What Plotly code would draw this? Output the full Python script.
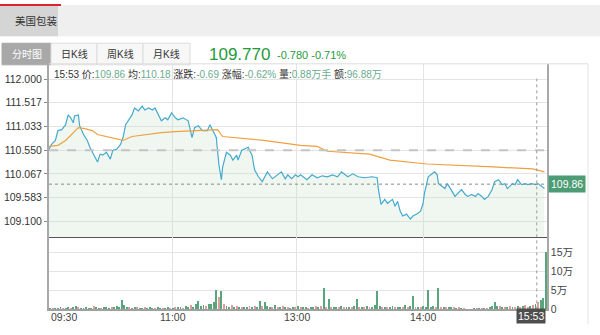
import plotly.graph_objects as go

W, H = 600, 335

# ---------------- data ----------------
stock_name = "美国包装"
tabs = ["分时图", "日K线", "周K线", "月K线"]
last_close_txt = "109.770"
change_txt = "-0.780"
change_pct_txt = "-0.71%"
prev_close = 110.55
cur_price = 109.86
cross_min = 382
cross_time = "15:53"
header_items = [("15:53", ""), ("价:", "109.86"), ("均:", "110.18"), ("涨跌:", "-0.69"),
                ("涨幅:", "-0.62%"), ("量:", "0.88万手"), ("额:", "96.88万")]

# minute index since open -> price
price_pts = [
    (0, 110.57), (2, 110.67), (5, 110.75), (7, 110.95), (10, 110.97), (13, 111.07), (15, 111.27),
    (17, 111.21), (19, 111.11), (20, 111.25), (23, 111.27), (24, 111.05), (27, 110.87), (30, 110.75),
    (32, 110.61), (34, 110.51), (38, 110.31), (40, 110.47), (42, 110.45), (45, 110.51), (48, 110.37),
    (50, 110.55), (53, 110.57), (56, 110.67), (58, 110.81), (60, 111.07), (62, 111.15), (65, 111.27),
    (67, 111.41), (70, 111.35), (73, 111.45), (75, 111.37), (78, 111.41), (81, 111.37), (83, 111.41),
    (85, 111.31), (88, 111.15), (91, 111.21), (93, 111.17), (96, 111.31), (99, 111.21), (101, 111.17),
    (105, 111.21), (109, 111.15), (112, 110.81), (114, 111.01), (117, 111.05), (120, 110.95),
    (124, 110.95), (126, 111.07), (128, 110.97), (131, 110.81), (133, 110.27), (135, 109.95),
    (136, 110.21), (139, 110.51), (142, 110.45), (144, 110.35), (147, 110.45), (148, 110.35),
    (151, 110.55), (153, 110.57), (156, 110.61), (159, 110.45), (161, 110.15), (164, 110.01),
    (167, 109.91), (169, 110.01), (171, 110.11), (175, 109.97), (179, 110.05), (182, 110.11),
    (185, 109.97), (187, 110.05), (190, 109.97), (193, 110.05), (195, 110.01), (197, 110.05),
    (199, 110.01), (202, 109.95), (206, 110.05), (210, 109.99), (214, 110.03), (218, 110.01),
    (222, 110.05), (226, 110.01), (229, 110.11), (232, 110.05), (234, 110.01), (238, 110.07),
    (242, 110.01), (247, 109.99), (253, 110.01), (257, 109.99), (258, 109.75), (260, 109.45),
    (263, 109.55), (265, 109.47), (269, 109.55), (271, 109.41), (273, 109.51), (275, 109.31),
    (277, 109.21), (280, 109.25), (283, 109.15), (285, 109.21), (288, 109.25), (291, 109.31),
    (293, 109.47), (294, 109.67), (297, 110.01), (300, 110.07), (302, 110.11), (304, 110.05),
    (305, 109.87), (308, 109.81), (310, 109.77), (312, 109.87), (316, 109.71), (318, 109.61),
    (320, 109.67), (323, 109.75), (326, 109.65), (328, 109.61), (331, 109.65), (334, 109.61),
    (336, 109.67), (339, 109.61), (341, 109.55), (344, 109.61), (347, 109.75), (349, 109.91),
    (352, 109.95), (355, 109.85), (357, 109.87), (359, 109.77), (363, 109.87), (365, 109.85),
    (367, 109.95), (370, 109.85), (373, 109.87), (375, 109.85), (378, 109.87), (381, 109.85),
    (383, 109.87), (386, 109.81), (388, 109.77),
]
price_min = [p[0] for p in price_pts]
price_val = [p[1] for p in price_pts]

avg_pts = [
    (0, 110.63), (7, 110.65), (13, 110.75), (18, 110.87), (23, 111.01), (28, 110.99), (34, 110.95),
    (38, 110.87), (49, 110.81), (58, 110.75), (65, 110.83), (75, 110.87), (88, 110.91), (99, 110.93),
    (128, 110.97), (132, 110.97), (136, 110.83), (160, 110.77), (168, 110.75), (197, 110.65),
    (210, 110.63), (218, 110.53), (251, 110.47), (267, 110.35), (296, 110.27), (348, 110.21),
    (379, 110.17), (388, 110.11),
]
avg_min = [p[0] for p in avg_pts]
avg_val = [p[1] for p in avg_pts]

# volume (万) per 2-minute bucket
vol_val = [
    0.4, 0.3, 0.5, 0.4, 0.6, 0.5, 0.4, 0.7, 0.5, 0.6, 1.1, 0.8, 0.5, 0.4, 0.6,
    0.5, 0.4, 0.9, 0.6, 0.5, 0.4, 0.7, 0.6, 0.5, 0.8, 0.6, 1.0, 0.7, 2.6, 1.2,
    0.8, 0.6, 0.5, 0.7, 0.6, 0.5, 0.4, 0.6, 0.5, 0.7, 0.5, 0.4, 0.6, 0.5, 0.4,
    0.5, 0.6, 0.4, 0.5, 0.7, 0.6, 0.8, 0.5, 0.9, 0.7, 1.2, 0.8, 1.5, 2.3, 1.0,
    1.3, 0.9, 1.6, 1.4, 2.0, 5.2, 3.4, 4.9, 1.5, 1.0, 0.8, 1.2, 0.7, 0.9, 0.6,
    0.8, 0.7, 0.6, 0.9, 0.7, 1.1, 0.8, 2.3, 0.9, 2.0, 1.0, 0.7, 0.8, 1.2, 0.6,
    0.7, 0.9, 0.6, 0.8, 0.5, 0.7, 0.6, 0.9, 0.7, 0.6, 0.8, 0.5, 0.7, 0.6, 0.9,
    0.7, 1.0, 5.7, 0.8, 2.9, 0.7, 0.6, 0.8, 0.7, 0.9, 0.6, 0.8, 0.7, 0.6, 1.0,
    2.9, 0.8, 0.6, 0.7, 0.9, 0.6, 0.8, 1.2, 4.9, 0.9, 0.7, 0.6, 0.8, 0.7, 0.9,
    0.6, 0.7, 0.8, 0.6, 1.3, 0.7, 0.9, 3.6, 0.8, 0.6, 0.7, 0.9, 0.8, 5.2, 0.7,
    0.9, 0.6, 5.7, 0.8, 0.7, 0.6, 0.8, 0.7, 0.6, 0.5, 0.6, 0.5, 0.4, 0.0, 0.0,
    0.0, 0.2, 0.3, 0.2, 0.3, 0.2, 0.4, 0.6, 1.0, 2.0, 0.9, 1.1, 0.7, 0.6, 0.8,
    0.9, 0.6, 0.7, 1.0, 0.8, 0.9, 1.2, 0.8, 1.0, 1.3, 1.5, 2.0, 2.5, 3.0, 15.3,
]
vol_dir = ("grgggrggrggrggg" "ggrggrgggrggggg" "grggrggrgggrggr" "ggrgrggrggrgggg"
           "grggggrgrggrgrg" "rggrgrggrgggrgr" "grgrggrgrggrggr" "grgrgrggrgrggrg"
           "grgrgrggggrgrgg" "rggrgrggrgrgggg" "grgrgrggrgrgrgg" "ggrgrgrggggrgrg"
           "rgrgrgrrgrgrggg")
vol_bucket = 2
vol_min = [vol_bucket * k + 1 for k in range(len(vol_val))]

tick_min = [0, 97, 194, 293]
tick_txt = ["09:30", "11:00", "13:00", "14:00"]
session_len = 390
price_ticks = [112.000, 111.517, 111.033, 110.550, 110.067, 109.583, 109.100]
pct_txt = ["1.31%", "0.87%", "0.44%", "0.00%", "0.44%", "0.87%", "1.31%"]
vol_ticks = [0, 5, 10, 15]
vol_tick_txt = ["0", "5万", "10万", "15万"]

# ---------------- style ----------------
FONT = "Liberation Sans, Arial, Noto Sans CJK SC"
UP_C = "#e05a5a"
DN_C = "#4f9e74"
FLAT_C = "#9a9a9a"
LINE_C = "#45aacf"
AVG_C = "#f0a040"
GRID_C = "#e4e4e4"
BIG_GREEN = "#1f9a3c"
VOL_UP = "#e39a9a"
VOL_DN = "#5aa67c"


def px(x):
    return x / W


def py(y):
    return 1 - y / H


L, R = 49, 547
P_TOP, P_BOT, V_BOT = 65, 241, 315
half = (P_BOT - P_TOP) / 2 / 50.0
price_range = [prev_close - half, prev_close + half]
vol_top = (V_BOT - P_BOT) / ((V_BOT - 257) / 15.0)

fig = go.Figure()

fig.add_trace(go.Scatter(
    x=price_min, y=price_val, mode="lines", line=dict(color=LINE_C, width=1.2),
    fill="tozeroy", fillcolor="rgba(200,228,200,0.28)", xaxis="x", yaxis="y",
    hoverinfo="skip", showlegend=False))
fig.add_trace(go.Scatter(
    x=avg_min, y=avg_val, mode="lines", line=dict(color=AVG_C, width=1.2),
    xaxis="x", yaxis="y", hoverinfo="skip", showlegend=False))
fig.add_trace(go.Bar(
    x=vol_min, y=vol_val, width=0.75,
    marker=dict(color=[VOL_UP if c == "r" else VOL_DN for c in vol_dir], line=dict(width=0)),
    xaxis="x2", yaxis="y2", hoverinfo="skip", showlegend=False))

pct_cols = []
for t in price_ticks:
    if abs(t - prev_close) < 1e-6:
        pct_cols.append(FLAT_C)
    elif t > prev_close:
        pct_cols.append(UP_C)
    else:
        pct_cols.append(DN_C)
pct_labels = [f"<span style='color:{c}'>{t}</span>" for t, c in zip(pct_txt, pct_cols)]

xdom = [px(L), px(R)]
fig.update_layout(
    width=W, height=H, margin=dict(l=0, r=0, t=0, b=0),
    paper_bgcolor="white", plot_bgcolor="white",
    font=dict(family=FONT, size=10, color="#333"),
    bargap=0, showlegend=False,
    xaxis=dict(domain=xdom, range=[0, session_len], anchor="y", tickvals=tick_min,
               showticklabels=False, showgrid=True, gridcolor=GRID_C, gridwidth=1,
               zeroline=False, showline=True, linecolor="#555555", linewidth=1, ticks=""),
    xaxis2=dict(domain=xdom, range=[0, session_len], anchor="y2", matches="x", tickvals=tick_min,
                showticklabels=False, showgrid=True, gridcolor=GRID_C, gridwidth=1,
                zeroline=False, showline=True, linecolor="#a0a0a0", linewidth=1.5, ticks=""),
    yaxis=dict(domain=[py(P_BOT), py(P_TOP)], range=price_range, anchor="x",
               tickvals=price_ticks, ticktext=[f"{v:.3f}" for v in price_ticks],
               tickfont=dict(size=10.5, color="#333"), ticks="outside", ticklen=3, tickcolor="#888",
               showgrid=True, gridcolor=GRID_C, zeroline=False,
               showline=True, linecolor="#a8a8a8", linewidth=2, mirror=True),
    yaxis3=dict(overlaying="y", anchor="x", side="right", range=price_range,
                tickvals=price_ticks, ticktext=pct_labels, tickfont=dict(size=10.5),
                ticks="outside", ticklen=3, tickcolor="#aaa", showgrid=False, zeroline=False,
                showline=False),
    yaxis2=dict(domain=[py(V_BOT), py(P_BOT)], range=[0, vol_top], anchor="x2", side="right",
                tickvals=vol_ticks, ticktext=vol_tick_txt, tickfont=dict(size=10.5, color="#444"),
                ticks="", showgrid=True, gridcolor=GRID_C, zeroline=False,
                showline=True, linecolor="#a8a8a8", linewidth=1.5, mirror=True),
)

shapes = []
# header tab bar
shapes.append(dict(type="rect", xref="paper", yref="paper", x0=px(0), x1=px(600), y0=py(37), y1=py(5),
                   fillcolor="#efefef", line=dict(width=0), layer="below"))
shapes.append(dict(type="rect", xref="paper", yref="paper", x0=px(0), x1=px(58), y0=py(37), y1=py(5),
                   fillcolor="#d5d5d5", line=dict(width=0), layer="below"))
shapes.append(dict(type="rect", xref="paper", yref="paper", x0=px(0), x1=px(61), y0=py(6), y1=py(4),
                   fillcolor="#d9262c", line=dict(width=0)))
# period tabs
tab_edges = [2, 51, 97, 143, 190]
for i in range(len(tabs)):
    shapes.append(dict(type="rect", xref="paper", yref="paper", x0=px(tab_edges[i]), x1=px(tab_edges[i + 1]),
                       y0=py(66), y1=py(44),
                       fillcolor="#a8a8a8" if i == 0 else "#f7f7f7",
                       line=dict(width=1, color="#a8a8a8" if i == 0 else "#dcdcdc"), layer="below"))
# chart frame
shapes.append(dict(type="line", xref="paper", yref="paper", x0=px(L), x1=px(588), y0=py(P_TOP), y1=py(P_TOP),
                   line=dict(color="#dcdcdc", width=1)))
shapes.append(dict(type="line", xref="paper", yref="paper", x0=px(588), x1=px(588), y0=py(P_TOP), y1=py(330),
                   line=dict(color="#e4e4e4", width=1)))
# previous close dashed line
shapes.append(dict(type="line", xref="paper", yref="y", x0=px(L), x1=px(R), y0=prev_close, y1=prev_close,
                   line=dict(color="#c4c4c4", width=2, dash="dash")))
# current price dotted line
shapes.append(dict(type="line", xref="paper", yref="y", x0=px(L), x1=px(R), y0=cur_price, y1=cur_price,
                   line=dict(color="#8a8a8a", width=1, dash="dot")))
# crosshair
shapes.append(dict(type="line", xref="x", yref="paper", x0=cross_min, x1=cross_min, y0=py(V_BOT), y1=py(80),
                   line=dict(color="#9a9a9a", width=1, dash="dot")))
fig.update_layout(shapes=shapes)

ann = []
ann.append(dict(text=stock_name, xref="paper", yref="paper", x=px(13), y=py(21), xanchor="left",
                yanchor="middle", showarrow=False, font=dict(size=10.5, color="#333")))
tab_cols = ["white", "#333", "#333", "#333"]
for i, t in enumerate(tabs):
    ann.append(dict(text=t, xref="paper", yref="paper", x=px((tab_edges[i] + tab_edges[i + 1]) / 2), y=py(55),
                    xanchor="center", yanchor="middle", showarrow=False,
                    font=dict(size=10, color=tab_cols[i])))
ann.append(dict(text=last_close_txt, xref="paper", yref="paper", x=px(207), y=py(55), xanchor="left",
                yanchor="middle", showarrow=False, font=dict(size=17, color=BIG_GREEN)))
ann.append(dict(text=f"{change_txt} {change_pct_txt}", xref="paper", yref="paper", x=px(275), y=py(56),
                xanchor="left", yanchor="middle", showarrow=False, font=dict(size=11, color=BIG_GREEN)))
hdr = " ".join(f"{k}<span style='color:#6aab8e'>{v}</span>" if v else k for k, v in header_items)
ann.append(dict(text=hdr, xref="paper", yref="paper", x=px(52), y=py(75), xanchor="left",
                yanchor="middle", showarrow=False, font=dict(size=10, color="#333")))
# current price tag
ann.append(dict(text=f"{cur_price:.2f}", xref="paper", yref="y", x=px(R + 1), y=cur_price, xanchor="left",
                yanchor="middle", showarrow=False, bgcolor="#4c9c74", borderpad=2,
                font=dict(size=10.5, color="white")))
# time labels
for i, (m, t) in enumerate(zip(tick_min, tick_txt)):
    ann.append(dict(text=t, xref="x2", yref="paper", x=m, y=py(323), xanchor="left" if i == 0 else "center",
                    yanchor="middle", showarrow=False, font=dict(size=10.5, color="#444")))
ann.append(dict(text=cross_time, xref="paper", yref="paper", x=px(R - 1), y=py(322), xanchor="right",
                yanchor="middle", showarrow=False, bgcolor="#4e4e4e", borderpad=1,
                font=dict(size=10.5, color="white")))
fig.update_layout(annotations=ann)

fig.write_html("out.html", config={"displayModeBar": False})
